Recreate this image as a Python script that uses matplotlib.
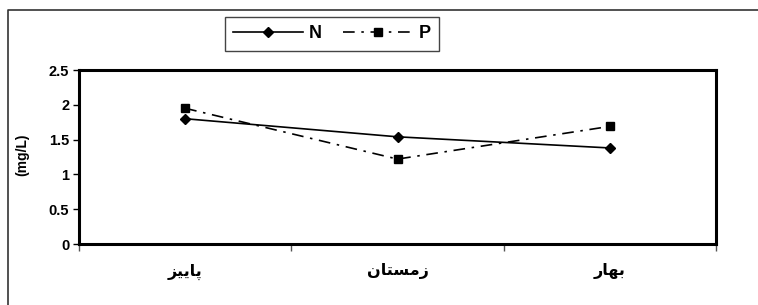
import matplotlib
matplotlib.use("Agg")
import matplotlib.pyplot as plt
from matplotlib.lines import Line2D

# fasl-ha (payiz, zemestan, bahar) - presentation forms, visual order
seasons = ["\uFEB0\uFBFF\uFBFE\uFE8E\uFB58",
           "\uFEE5\uFE8E\uFE98\uFEB4\uFEE3\uFEAF",
           "\uFEAD\uFE8E\uFEEC\uFE91"]
n_vals = [1.80, 1.54, 1.38]
p_vals = [1.95, 1.22, 1.69]
y_ticks = [0, 0.5, 1, 1.5, 2, 2.5]
y_ticklabels = ["0", "0.5", "1", "1.5", "2", "2.5"]

plt.rcParams['font.family'] = ['Liberation Sans', 'DejaVu Sans']
plt.rcParams['font.weight'] = 'bold'

fig = plt.figure(figsize=(7.58, 3.05), dpi=100)
ax = fig.add_axes([79 / 758, 1 - 244 / 305, 637 / 758, 174 / 305])

x = list(range(len(seasons)))
ax.plot(x, n_vals, color='black', lw=1.2, marker='D', ms=5.5, label='N')
ax.plot(x, p_vals, color='black', lw=1.2, marker='s', ms=6,
        linestyle=(0, (7, 4, 1.5, 4)), label='P')

ax.set_xlim(-0.5, len(seasons) - 0.5)
ax.set_ylim(0, 2.5)
ax.set_yticks(y_ticks)
ax.set_yticklabels(y_ticklabels, fontsize=10.5, fontweight='bold')
ax.tick_params(axis='y', direction='out', length=4, width=1, pad=3)

# tick marks between categories, labels at category centres
ax.set_xticks([i - 0.5 for i in range(len(seasons) + 1)])
ax.set_xticklabels([])
ax.set_xticks(x, minor=True)
ax.set_xticklabels(seasons, minor=True, fontsize=11.5, fontweight='bold',
                   family=['DejaVu Sans'])
ax.tick_params(axis='x', which='major', direction='out', length=5, width=1, color='#555555')
ax.tick_params(axis='x', which='minor', length=0, pad=14)

for s in ax.spines.values():
    s.set_linewidth(2.2)

fig.text(22 / 758, 1 - 155 / 305, '(mg/L)', rotation=90, fontsize=10,
         fontweight='bold', ha='center', va='center')

leg = fig.legend(loc='center', bbox_to_anchor=(332 / 758, 1 - 34 / 305), ncol=2,
                 prop={'weight': 'bold', 'size': 13}, handlelength=3.9,
                 columnspacing=1.2, handletextpad=0.3, borderpad=0.45,
                 fancybox=False, edgecolor='#444444', framealpha=1)
leg.get_frame().set_linewidth(1)

# outer frame
fig.add_artist(Line2D([8 / 758, 8 / 758, 1], [0, 1 - 10 / 305, 1 - 10 / 305],
                      transform=fig.transFigure, color='#333333', lw=1.2))

fig.savefig('out.png', dpi=100)
